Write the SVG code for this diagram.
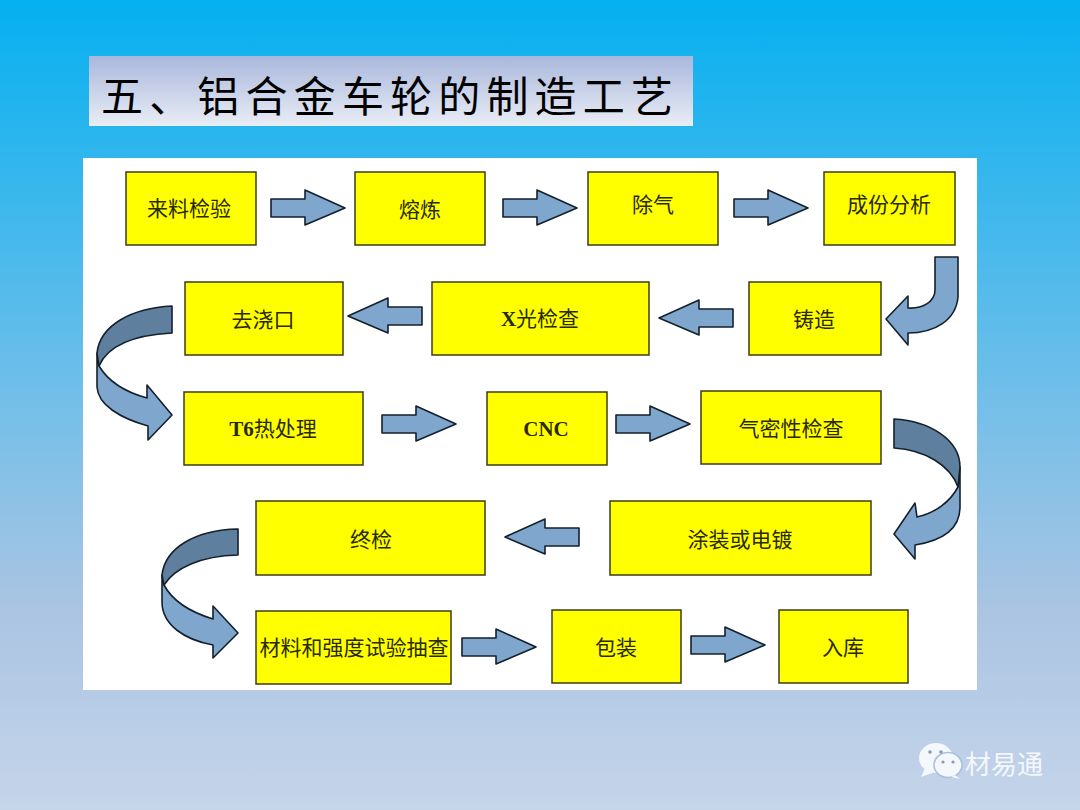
<svg xmlns="http://www.w3.org/2000/svg" xmlns:xlink="http://www.w3.org/1999/xlink" width="1080" height="810" viewBox="0 0 1080 810">
<style>
.n{fill:#ffff00;stroke:#3c3c14;stroke-width:1.5}
.t{font-family:"Liberation Serif","Noto Sans CJK SC",serif;font-size:21px;fill:#2a2a00;text-anchor:middle;dominant-baseline:central}
.b{font-weight:bold}
.a{fill:#7fa6cc;stroke:#14202c;stroke-width:1.6;stroke-linejoin:round}
.d{fill:#5f7f9e;stroke:#14202c;stroke-width:1.6;stroke-linejoin:round}
</style>
<defs>
<linearGradient id="bg" x1="0" y1="0" x2="0" y2="1"><stop offset="0" stop-color="#05b0f0"/><stop offset="0.5" stop-color="#74bfe9"/><stop offset="0.75" stop-color="#aac4e2"/><stop offset="1" stop-color="#c5d5ea"/></linearGradient>
<linearGradient id="tb" x1="0" y1="0" x2="0" y2="1"><stop offset="0" stop-color="#a9b7dc"/><stop offset="1" stop-color="#e9edf5"/></linearGradient>
<path id="ar" class="a" d="M0,-9H34V-18L74,0L34,17V9H0Z"/>
</defs>
<rect width="1080" height="810" fill="url(#bg)"/>
<g id="title"><rect x="89" y="56" width="604" height="70" fill="url(#tb)"/>
<text x="101" y="93" font-family="'Noto Sans CJK SC',sans-serif" font-size="42" fill="#000" dominant-baseline="central" textLength="572" lengthAdjust="spacing">五、铝合金车轮的制造工艺</text></g>
<rect id="panel" x="83" y="158" width="894" height="532" fill="#fff"/>
<g id="connectors">
<use href="#ar" x="271" y="208"/><use href="#ar" x="503" y="208"/><use href="#ar" x="734" y="208"/>
<use href="#ar" transform="translate(422,316) scale(-1,1)"/><use href="#ar" transform="translate(733,318) scale(-1,1)"/>
<use href="#ar" x="382" y="424"/><use href="#ar" x="616" y="424"/>
<use href="#ar" transform="translate(579,537) scale(-1,1)"/>
<use href="#ar" x="462" y="647"/><use href="#ar" x="691" y="645"/>
<path class="a" d="M935,257H958V297C956,320 935,333 908,333V345L886,319L908,296V308C922,309 935,302 935,290Z"/>
<path class="a" d="M99,366C108,381 125,392 147,398V385L172,415L148,440V426C120,418 98,405 97,387V353Z"/>
<path class="d" d="M172,306C132,308 100,325 97,353L99,366C108,345 135,335 172,333Z"/>
<path class="a" d="M958,487C950,502 935,513 917,517L915,503L894,534L915,559V545C940,541 960,530 960,507V467Z"/>
<path class="d" d="M894,419C930,421 960,440 960,467L958,487C950,465 925,450 894,448Z"/>
<path class="a" d="M164,585C172,600 190,612 213,619V606L238,633L213,658V645C185,640 162,625 162,602V575Z"/>
<path class="d" d="M238,529C195,530 165,548 162,575L164,585C175,568 200,556 238,555Z"/>
</g>
<g id="n1"><rect class="n" x="126" y="172" width="130" height="73"/><text class="t" x="189" y="209">来料检验</text></g>
<g id="n2"><rect class="n" x="355" y="172" width="130" height="73"/><text class="t" x="420" y="210">熔炼</text></g>
<g id="n3"><rect class="n" x="588" y="172" width="130" height="73"/><text class="t" x="653" y="205">除气</text></g>
<g id="n4"><rect class="n" x="824" y="172" width="131" height="73"/><text class="t" x="889" y="205">成份分析</text></g>
<g id="n5"><rect class="n" x="185" y="282" width="158" height="73"/><text class="t" x="263" y="320">去浇口</text></g>
<g id="n6"><rect class="n" x="432" y="282" width="217" height="73"/><text class="t" x="540" y="319"><tspan class="b">X</tspan>光检查</text></g>
<g id="n7"><rect class="n" x="749" y="282" width="132" height="73"/><text class="t" x="814" y="320">铸造</text></g>
<g id="n8"><rect class="n" x="184" y="392" width="179" height="73"/><text class="t" x="273" y="429"><tspan class="b">T6</tspan>热处理</text></g>
<g id="n9"><rect class="n" x="487" y="392" width="120" height="73"/><text class="t b" x="546" y="429">CNC</text></g>
<g id="n10"><rect class="n" x="701" y="391" width="180" height="73"/><text class="t" x="791" y="429">气密性检查</text></g>
<g id="n11"><rect class="n" x="610" y="501" width="261" height="74"/><text class="t" x="740" y="540">涂装或电镀</text></g>
<g id="n12"><rect class="n" x="256" y="501" width="229" height="74"/><text class="t" x="371" y="540">终检</text></g>
<g id="n13"><rect class="n" x="256" y="611" width="195" height="73"/><text class="t" x="354" y="648">材料和强度试验抽查</text></g>
<g id="n14"><rect class="n" x="552" y="610" width="129" height="73"/><text class="t" x="616" y="648">包装</text></g>
<g id="n15"><rect class="n" x="779" y="610" width="129" height="73"/><text class="t" x="843" y="648">入库</text></g>
<g id="watermark">
<ellipse cx="936" cy="758" rx="17" ry="15" fill="#f4f7fb"/><path d="M925,768L921,777L935,772Z" fill="#f4f7fb"/>
<ellipse cx="948" cy="765" rx="14" ry="12.500" fill="#f4f7fb" stroke="#a9bfdb" stroke-width="1.500"/><path d="M955,775L960,779L951,777Z" fill="#f4f7fb"/>
<circle cx="930" cy="752" r="1.800" fill="#8b9bb0"/><circle cx="941" cy="752" r="1.800" fill="#8b9bb0"/><circle cx="943" cy="762" r="1.600" fill="#8b9bb0"/><circle cx="953" cy="762" r="1.600" fill="#8b9bb0"/>
<text x="965" y="762" font-family="'Noto Sans CJK SC',sans-serif" font-size="26" fill="#f4f7fb" dominant-baseline="central">材易通</text>
</g>
</svg>
